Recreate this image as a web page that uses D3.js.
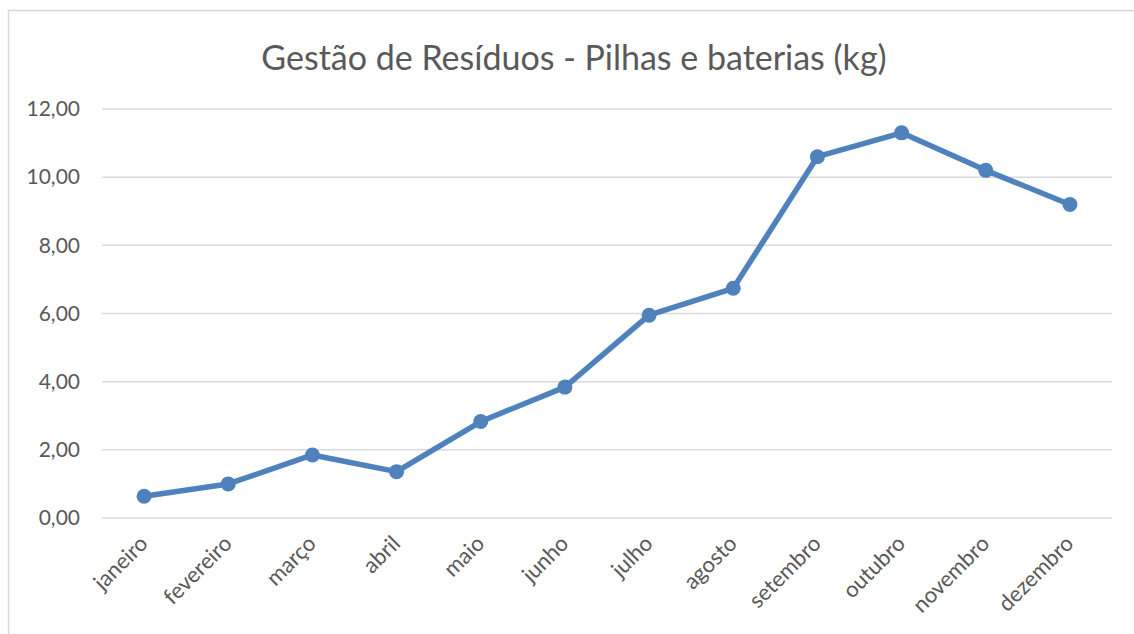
<!DOCTYPE html>
<html>
<head>
<meta charset="utf-8">
<script src="https://cdn.jsdelivr.net/npm/d3@7"></script>
<style>
    html, body { margin: 0; padding: 0; background: #fff; }
    #chart { width: 1134px; height: 634px; }
    text { font-family: Lato, "Open Sans", sans-serif; fill: #595959; }
</style>
</head>
<body>
<div id="chart"></div>
<script>
// Data
var months = ["janeiro", "fevereiro", "março", "abril", "maio", "junho",
              "julho", "agosto", "setembro", "outubro", "novembro", "dezembro"];
var values = [0.64, 1.00, 1.85, 1.36, 2.83, 3.84, 5.95, 6.74, 10.60, 11.30, 10.20, 9.20];
var yTicks = [0, 2, 4, 6, 8, 10, 12];
var title = "Gestão de Resíduos - Pilhas e baterias (kg)";

function drawLineChart() {
    var width = 1134,
        height = 634;
    var margin = {top: 109, right: 22, bottom: 116, left: 102};

    var svg = d3.select("#chart").append("svg")
        .attr("width", width)
        .attr("height", height);

    // Chart frame (only left and top edges are visible)
    svg.append("path")
        .attr("d", "M8.5," + height + "V10.5H" + width)
        .attr("fill", "none")
        .attr("stroke", "#d9d9d9")
        .attr("stroke-width", 1.5);

    // Title
    svg.append("text")
        .attr("x", 574)
        .attr("y", 70)
        .attr("text-anchor", "middle")
        .style("font-size", "34px")
        .text(title);

    // Scales
    var x = d3.scaleBand()
        .domain(months)
        .range([margin.left, width - margin.right]);

    var y = d3.scaleLinear()
        .domain([0, 12])
        .range([height - margin.bottom, margin.top]);

    // Horizontal gridlines
    svg.append("g")
        .selectAll("line")
        .data(yTicks)
        .enter().append("line")
        .attr("x1", margin.left)
        .attr("x2", width - margin.right)
        .attr("y1", function(d) { return y(d); })
        .attr("y2", function(d) { return y(d); })
        .attr("stroke", "#d9d9d9")
        .attr("stroke-width", 1.5);

    // Y axis labels
    var yAxis = d3.axisLeft(y)
        .tickValues(yTicks)
        .tickSize(0)
        .tickPadding(22)
        .tickFormat(function(d) { return d3.format(".2f")(d).replace(".", ","); });

    svg.append("g")
        .attr("transform", "translate(" + margin.left + ",0)")
        .call(yAxis)
        .call(function(g) { g.select(".domain").remove(); })
        .selectAll("text")
        .style("font-size", "21px")
        .attr("fill", "#595959");

    // X axis labels, rotated 45 degrees
    var xAxis = d3.axisBottom(x).tickSize(0).tickPadding(0);

    svg.append("g")
        .attr("transform", "translate(0," + (height - margin.bottom) + ")")
        .call(xAxis)
        .call(function(g) { g.select(".domain").remove(); })
        .selectAll("text")
        .style("font-size", "22px")
        .attr("fill", "#595959")
        .attr("text-anchor", "end")
        .attr("dy", null)
        .attr("y", 0)
        .attr("transform", "translate(5,27) rotate(-45)");

    // Line
    var line = d3.line()
        .x(function(d, i) { return x(months[i]) + x.bandwidth() / 2; })
        .y(function(d) { return y(d); });

    svg.append("path")
        .datum(values)
        .attr("fill", "none")
        .attr("stroke", "#4f81bd")
        .attr("stroke-width", 5.5)
        .attr("stroke-linejoin", "round")
        .attr("d", line);

    // Markers
    svg.append("g")
        .selectAll("circle")
        .data(values)
        .enter().append("circle")
        .attr("cx", function(d, i) { return x(months[i]) + x.bandwidth() / 2; })
        .attr("cy", function(d) { return y(d); })
        .attr("r", 7.5)
        .attr("fill", "#4f81bd");
}

drawLineChart();
</script>
</body>
</html>
